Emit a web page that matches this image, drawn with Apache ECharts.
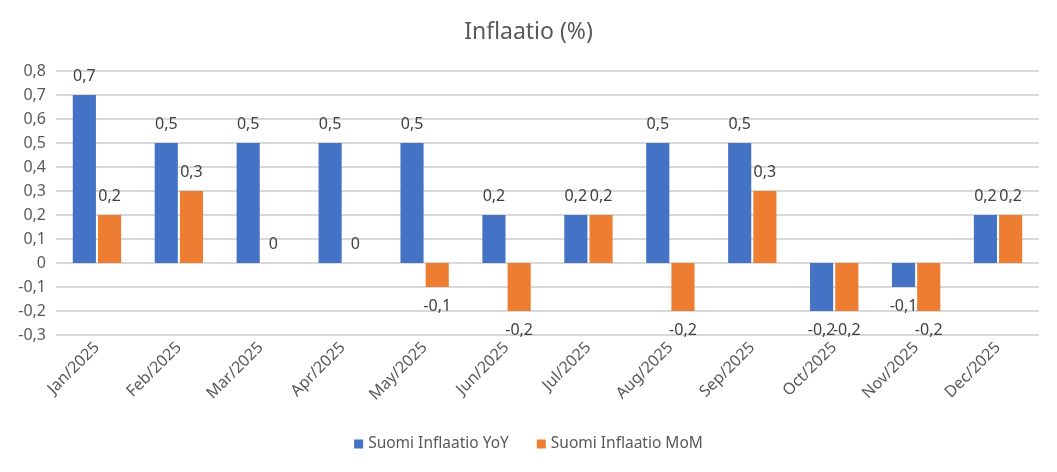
<!DOCTYPE html>
<html>
<head>
<meta charset="utf-8">
<title>Inflaatio (%)</title>
<script src="https://cdn.jsdelivr.net/npm/echarts@6/dist/echarts.min.js"></script>
<style>
  html, body { margin: 0; padding: 0; background: #fff; }
  #chart { width: 1057px; height: 472px; }
</style>
</head>
<body>
<div id="chart"></div>
<script>
// kuukaudet
var months = ['Jan/2025', 'Feb/2025', 'Mar/2025', 'Apr/2025', 'May/2025', 'Jun/2025',
              'Jul/2025', 'Aug/2025', 'Sep/2025', 'Oct/2025', 'Nov/2025', 'Dec/2025'];
// vuosimuutos
var yoy = [0.7, 0.5, 0.5, 0.5, 0.5, 0.2, 0.2, 0.5, 0.5, -0.2, -0.1, 0.2];
// kuukausimuutos
var mom = [0.2, 0.3, 0, 0, -0.1, -0.2, 0.2, -0.2, 0.3, -0.2, -0.2, 0.2];
var seriesNames = ['Suomi Inflaatio YoY', 'Suomi Inflaatio MoM'];
var yMin = -0.3, yMax = 0.8, yStep = 0.1;

var FONT = '"Noto Sans", "Open Sans", sans-serif';

// pilkku desimaalierottimeksi
function fi(v) {
    return String(Math.round(v * 10) / 10).replace('.', ',');
}

// negatiiviset arvot: label palkin alapuolelle
function withLabels(arr) {
    return arr.map(function (v) {
        return { value: v, label: { position: v < 0 ? 'bottom' : 'top' } };
    });
}

var chart = echarts.init(document.getElementById('chart'));

var labelStyle = {
    show: true,
    distance: 11,
    color: '#404040',
    fontSize: 16,
    fontFamily: FONT,
    formatter: function (p) { return fi(p.value); }
};

chart.setOption({
    animation: false,
    title: {
        text: 'Inflaatio (%)',
        left: 'center',
        top: 16,
        textStyle: { color: '#595959', fontSize: 23, fontWeight: 'normal', fontFamily: FONT }
    },
    legend: {
        data: seriesNames,
        bottom: 15,
        left: 'center',
        itemWidth: 9,
        itemHeight: 9,
        itemGap: 28,
        icon: 'rect',
        textStyle: { color: '#595959', fontSize: 15.5, fontFamily: FONT }
    },
    grid: { left: 56, right: 18, top: 71, bottom: 137, containLabel: false },
    xAxis: {
        type: 'category',
        data: months,
        axisLine: { show: false, onZero: false },
        axisTick: { show: false },
        axisLabel: {
            rotate: 45,
            margin: 10,
            color: '#595959',
            fontSize: 16,
            fontFamily: FONT
        }
    },
    yAxis: {
        type: 'value',
        min: yMin,
        max: yMax,
        interval: yStep,
        axisLine: { show: false },
        axisTick: { show: false },
        splitLine: { lineStyle: { color: '#d9d9d9', width: 2 } },
        axisLabel: {
            color: '#595959',
            fontSize: 16,
            fontFamily: FONT,
            margin: 10,
            formatter: function (v) { return fi(v); }
        }
    },
    series: [
        {
            name: seriesNames[0],
            type: 'bar',
            data: withLabels(yoy),
            itemStyle: { color: '#4472C4' },
            barGap: '9%',
            barCategoryGap: '41%',
            label: labelStyle
        },
        {
            name: seriesNames[1],
            type: 'bar',
            data: withLabels(mom),
            itemStyle: { color: '#ED7D31' },
            barGap: '9%',
            barCategoryGap: '41%',
            label: labelStyle
        }
    ]
});
</script>
</body>
</html>
